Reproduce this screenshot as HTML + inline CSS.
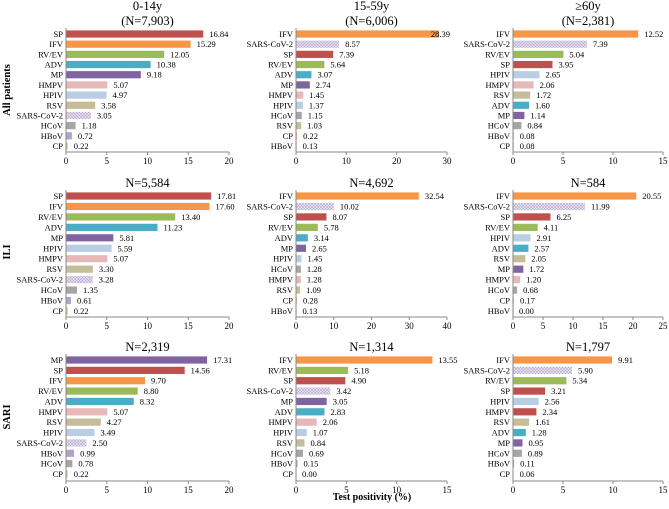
<!DOCTYPE html>
<html><head><meta charset="utf-8"><style>
body{margin:0;background:#fff}
svg, svg text{font-family:"Liberation Serif","Times New Roman",serif}
</style></head><body>
<svg id="c" width="669" height="504" viewBox="0 0 669 504" font-family="Liberation Serif, serif">
<defs><pattern id="hatch" width="3" height="3" patternUnits="userSpaceOnUse"><rect width="3" height="3" fill="#ebe6f2"/><path d="M0,0L3,3M3,0L0,3" stroke="#b8a9cf" stroke-width="0.6"/></pattern></defs>
<text x="10" y="90" transform="rotate(-90 10 90)" text-anchor="middle" font-weight="bold" font-size="10.5">All patients</text>
<text x="10" y="252" transform="rotate(-90 10 252)" text-anchor="middle" font-weight="bold" font-size="10.5">ILI</text>
<text x="10" y="417" transform="rotate(-90 10 417)" text-anchor="middle" font-weight="bold" font-size="10.5">SARI</text>
<text x="372" y="500" text-anchor="middle" font-weight="bold" font-size="10">Test positivity (%)</text>
</svg>
<script>
const p1Cats=["SP","IFV","RV/EV","ADV","MP","HMPV","HPIV","RSV","SARS-CoV-2","HCoV","HBoV","CP"];
const p1Vals=[16.84,15.29,12.05,10.38,9.18,5.07,4.97,3.58,3.05,1.18,0.72,0.22];
const p2Cats=["IFV","SARS-CoV-2","SP","RV/EV","ADV","MP","HMPV","HPIV","HCoV","RSV","CP","HBoV"];
const p2Vals=[28.39,8.57,7.39,5.64,3.07,2.74,1.45,1.37,1.15,1.03,0.22,0.13];
const p3Cats=["IFV","SARS-CoV-2","RV/EV","SP","HPIV","HMPV","RSV","ADV","MP","HCoV","HBoV","CP"];
const p3Vals=[12.52,7.39,5.04,3.95,2.65,2.06,1.72,1.60,1.14,0.84,0.08,0.08];
const p4Cats=["SP","IFV","RV/EV","ADV","MP","HPIV","HMPV","RSV","SARS-CoV-2","HCoV","HBoV","CP"];
const p4Vals=[17.81,17.60,13.40,11.23,5.81,5.59,5.07,3.30,3.28,1.35,0.61,0.22];
const p5Cats=["IFV","SARS-CoV-2","SP","RV/EV","ADV","MP","HPIV","HCoV","HMPV","RSV","CP","HBoV"];
const p5Vals=[32.54,10.02,8.07,5.78,3.14,2.65,1.45,1.28,1.28,1.09,0.28,0.13];
const p6Cats=["IFV","SARS-CoV-2","SP","RV/EV","HPIV","ADV","RSV","MP","HMPV","HCoV","CP","HBoV"];
const p6Vals=[20.55,11.99,6.25,4.11,2.91,2.57,2.05,1.72,1.20,0.68,0.17,0.00];
const p7Cats=["MP","SP","IFV","RV/EV","ADV","HMPV","RSV","HPIV","SARS-CoV-2","HBoV","HCoV","CP"];
const p7Vals=[17.31,14.56,9.70,8.80,8.32,5.07,4.27,3.49,2.50,0.99,0.78,0.22];
const p8Cats=["IFV","RV/EV","SP","SARS-CoV-2","MP","ADV","HMPV","HPIV","RSV","HCoV","HBoV","CP"];
const p8Vals=[13.55,5.18,4.90,3.42,3.05,2.83,2.06,1.07,0.84,0.69,0.15,0.00];
const p9Cats=["IFV","SARS-CoV-2","RV/EV","SP","HPIV","HMPV","RSV","ADV","MP","HCoV","HBoV","CP"];
const p9Vals=[9.91,5.90,5.34,3.21,2.56,2.34,1.61,1.28,0.95,0.89,0.11,0.06];
const tick20=["0","5","10","15","20"],tick30=["0","10","20","30"],tick15=["0","5","10","15"],tick40=["0","10","20","30","40"],tick25=["0","5","10","15","20","25"];
const titles=[["0-14y","(N=7,903)"],["15-59y","(N=6,006)"],["≥60y","(N=2,381)"],["N=5,584"],["N=4,692"],["N=584"],["N=2,319"],["N=1,314"],["N=1,797"]];
const colors={"SP":"#c0504d","IFV":"#f79646","RV/EV":"#9bbb59","ADV":"#4bacc6","MP":"#8064a2","HMPV":"#e6b9b8","HPIV":"#b9cde5","RSV":"#c4bd97","SARS-CoV-2":"url(#hatch)","HCoV":"#a5a5a5","HBoV":"#b3a2c7","CP":"#fac090"};
const svg=document.getElementById('c');const NS="http://www.w3.org/2000/svg";
function mk(t,a,txt){const e=document.createElementNS(NS,t);for(const k in a)e.setAttribute(k,a[k]);if(t==='text')e.setAttribute('font-family','Liberation Serif, serif');if(txt!=null)e.textContent=txt;svg.appendChild(e);return e;}
const cols=[[66,229],[296,447],[513,663]];
const rows=[{t:34,b:146,ax:152},{t:196,b:311,ax:317},{t:360,b:474,ax:481}];
const panels=[[p1Cats,p1Vals,tick20],[p2Cats,p2Vals,tick30],[p3Cats,p3Vals,tick15],[p4Cats,p4Vals,tick20],[p5Cats,p5Vals,tick40],[p6Cats,p6Vals,tick25],[p7Cats,p7Vals,tick20],[p8Cats,p8Vals,tick15],[p9Cats,p9Vals,tick15]];
panels.forEach((p,i)=>{
 const [cats,vals,ticks]=p;const c=cols[i%3],r=rows[Math.floor(i/3)];
 const max=+ticks[ticks.length-1];const x=v=>c[0]+(c[1]-c[0])*v/max;
 const step=(r.b-r.t)/(cats.length-1);const y=j=>r.t+j*step;
 const tl=titles[i];const cx=(c[0]+c[1])/2;
 tl.forEach((s,k)=>{const e=mk('text',{x:cx,y:r.t-9-(tl.length-1-k)*15,'text-anchor':'middle','font-size':12.5},s);
 
 });
 cats.forEach((cat,j)=>{
  const b=mk('rect',{x:c[0],y:y(j)-3.6,width:Math.max(x(vals[j])-c[0],0.6),height:7.2,fill:(i==8&&cat=="HMPV")?"#c0504d":colors[cat]});
  
  
  const l=mk('text',{x:c[0]-3,y:y(j)+3,'text-anchor':'end','font-size':8.5},cat);
  
  
  let vx=x(vals[j])+6; if(vx>c[1]-5) vx=x(vals[j])-8;
  const v=mk('text',{x:vx,y:y(j)+3,'font-size':8.5},vals[j].toFixed(2));
  
  
 });
 const a=mk('line',{x1:c[0],x2:c[1],y1:r.ax,y2:r.ax,stroke:'#888','stroke-width':1});
 
 
 const ya=mk('line',{x1:c[0],x2:c[0],y1:r.t-6,y2:r.ax,stroke:'#888','stroke-width':1});
 
 
 ticks.forEach(t=>{const tx=x(+t);
  const tk=mk('line',{x1:tx,x2:tx,y1:r.ax,y2:r.ax+3,stroke:'#888'});
  
  
  const tt=mk('text',{x:tx,y:r.ax+12,'text-anchor':'middle','font-size':9},t);
  
  });
});
</script>
</body></html>
